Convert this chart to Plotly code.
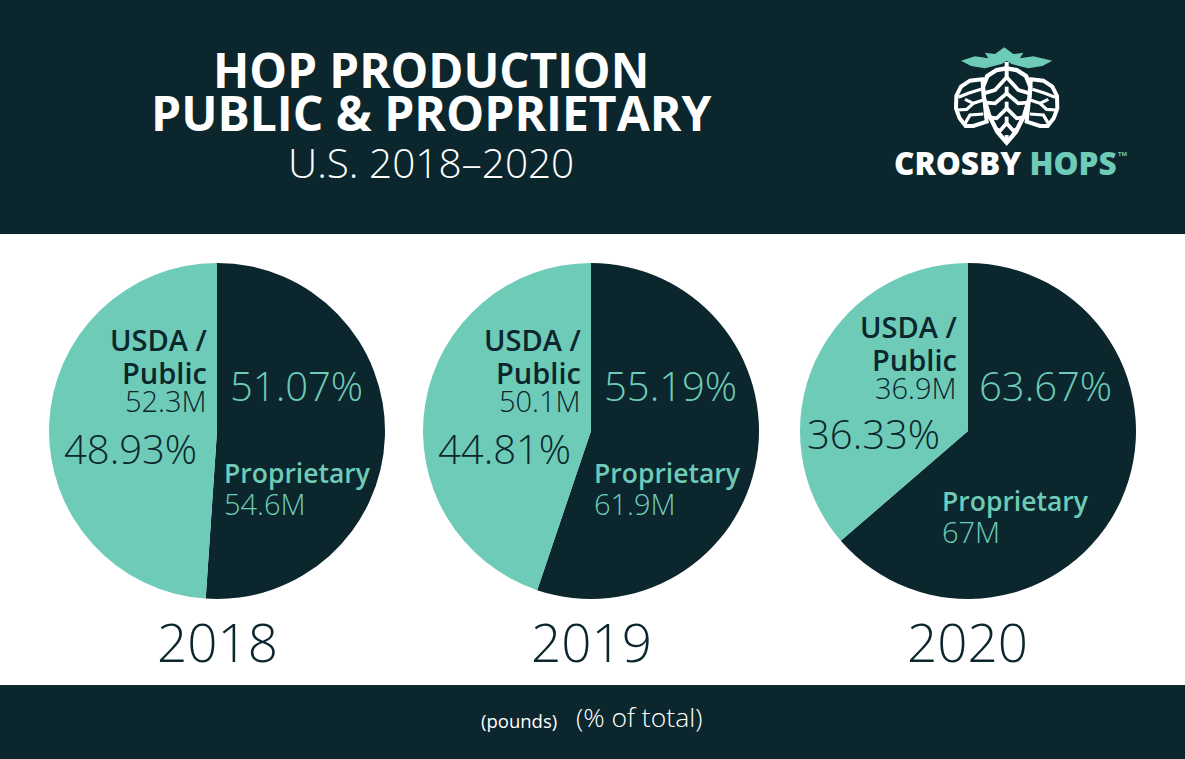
import plotly.graph_objects as go

years = ['2018', '2019', '2020']
labels = ['Proprietary', 'USDA / Public']
share_prop = [51.07, 55.19, 63.67]
share_public = [48.93, 44.81, 36.33]
pounds_prop = ['54.6M', '61.9M', '67M']
pounds_public = ['52.3M', '50.1M', '36.9M']

DARK = '#0b262d'
MINT = '#6ecbb8'
W, H = 1185, 759
FONT = 'Open Sans'

centers = [217, 591, 968]
cy = 431
r = 168


def px(x):
    return x / W


def py(y):
    return 1 - y / H


fig = go.Figure()

for i, year in enumerate(years):
    fig.add_trace(go.Pie(
        labels=labels,
        values=[share_prop[i], share_public[i]],
        marker=dict(colors=[DARK, MINT], line=dict(width=0)),
        sort=False,
        direction='clockwise',
        rotation=0,
        textinfo='none',
        hoverinfo='label+percent',
        showlegend=False,
        domain=dict(x=[px(centers[i] - r), px(centers[i] + r)],
                    y=[py(cy + r), py(cy - r)]),
    ))

shapes = [
    dict(type='rect', xref='paper', yref='paper', x0=0, x1=1, y0=py(234), y1=1,
         fillcolor=DARK, line_width=0, layer='below'),
    dict(type='rect', xref='paper', yref='paper', x0=0, x1=1, y0=0, y1=py(685),
         fillcolor=DARK, line_width=0, layer='below'),
]


# logo, drawn in the coordinates of a 3x crop starting at (945, 40)
def logo_xy(p):
    return '%.5f,%.5f' % (px(945 + p[0] / 3), py(40 + p[1] / 3))


def logo_path(points, closed=False, fill=None, width=3.2, color='white'):
    path = 'M' + ' L'.join(logo_xy(p) for p in points) + (' Z' if closed else '')
    shapes.append(dict(type='path', xref='paper', yref='paper', path=path,
                       fillcolor=fill, line=dict(color=color, width=width)))


def mirror(points, axis):
    return [(2 * axis - x, y) for x, y in points]


leaves = [(48, 62), (90, 49), (130, 55), (120, 38), (150, 42), (178, 22), (205, 42),
          (235, 38), (225, 55), (265, 49), (322, 62), (292, 78), (250, 85), (200, 72),
          (185, 62), (170, 72), (120, 85), (78, 78)]
logo_path(leaves, closed=True, fill=MINT, width=0, color=MINT)

side_cone = [(112, 118), (75, 122), (48, 140), (34, 168), (33, 205), (44, 235), (62, 258),
             (85, 258), (125, 245)]
side_lines = [[(108, 148), (70, 160), (40, 172)],
              [(115, 180), (85, 190), (60, 178)],
              [(35, 210), (65, 208), (85, 190)],
              [(58, 254), (75, 225), (115, 222)]]
for pts in (side_cone, mirror(side_cone, 185)):
    logo_path(pts, closed=True, fill=DARK, width=4)
for line in side_lines:
    logo_path(line)
    logo_path(mirror(line, 185))

center_cone = [(185, 85), (215, 90), (243, 108), (256, 140), (253, 175), (238, 225), (213, 275),
               (185, 308), (157, 275), (132, 225), (117, 175), (114, 140), (127, 108), (155, 90)]
logo_path(center_cone, closed=True, fill=DARK, width=4.4)
logo_path([(185, 66), (185, 118)], width=4)
center_lines = [[(185, 112), (150, 150), (116, 160)],
                [(185, 160), (150, 190), (122, 188)],
                [(185, 205), (155, 235), (135, 232)],
                [(185, 250), (165, 272), (155, 268)]]
for line in center_lines:
    logo_path(line, width=3.8)
    logo_path(mirror(line, 185), width=3.8)
logo_path([(185, 160), (185, 140)], width=3.8)
logo_path([(185, 205), (185, 185)], width=3.8)
logo_path([(185, 250), (185, 230)], width=3.8)
logo_path([(185, 302), (185, 285)], width=3.8)


def note(x, y, text, size, color, weight=400, anchor='center'):
    fig.add_annotation(xref='paper', yref='paper', x=px(x), y=py(y), text=text,
                       showarrow=False, xanchor=anchor, yanchor='middle',
                       font=dict(family=FONT, size=size, color=color, weight=weight))


note(431, 70, 'HOP PRODUCTION', 47.5, 'white', 700)
note(431, 112, 'PUBLIC &amp; PROPRIETARY', 48, 'white', 700)
note(431, 163, 'U.S. 2018–2020', 40.5, 'white', 300)

note(1005, 163, 'CROSBY <span style="color:%s">HOPS</span>' % MINT, 31.5, 'white', 800)
note(1122, 154, 'TM', 6, MINT, 700)

# positions of the text inside each pie
pub_x = [209, 583, 959]
pub_y = [340, 340, 327]
pub_share_x = [130, 504, 873]
pub_share_y = [449, 449, 434]
prop_share_x = [296, 670, 1045]
prop_share_y = [385, 385, 385]
prop_x = [222, 592, 940]
prop_y = [473, 473, 501]

for i, year in enumerate(years):
    note(pub_x[i], pub_y[i], 'USDA /', 29, DARK, 600, 'right')
    note(pub_x[i], pub_y[i] + 32, 'Public', 29, DARK, 600, 'right')
    note(pub_x[i], pub_y[i] + 60, pounds_public[i], 29, DARK, 300, 'right')
    note(pub_share_x[i], pub_share_y[i], '%.2f%%' % share_public[i], 40, DARK, 300)
    note(prop_share_x[i], prop_share_y[i], '%.2f%%' % share_prop[i], 40, MINT, 300)
    note(prop_x[i], prop_y[i], 'Proprietary', 26.5, MINT, 600, 'left')
    note(prop_x[i], prop_y[i] + 30, pounds_prop[i], 29, MINT, 300, 'left')
    note(centers[i], 641, year, 53, DARK, 300)

note(519, 720, '(pounds)', 18.5, 'white', 400)
note(639, 717, '(% of total)', 26.5, 'white', 300)

fig.update_layout(
    width=W, height=H,
    margin=dict(l=0, r=0, t=0, b=0),
    paper_bgcolor='white',
    shapes=shapes,
)

fig.write_html('out.html', config=dict(displayModeBar=False),
               post_script="document.body.style.margin='0';")
